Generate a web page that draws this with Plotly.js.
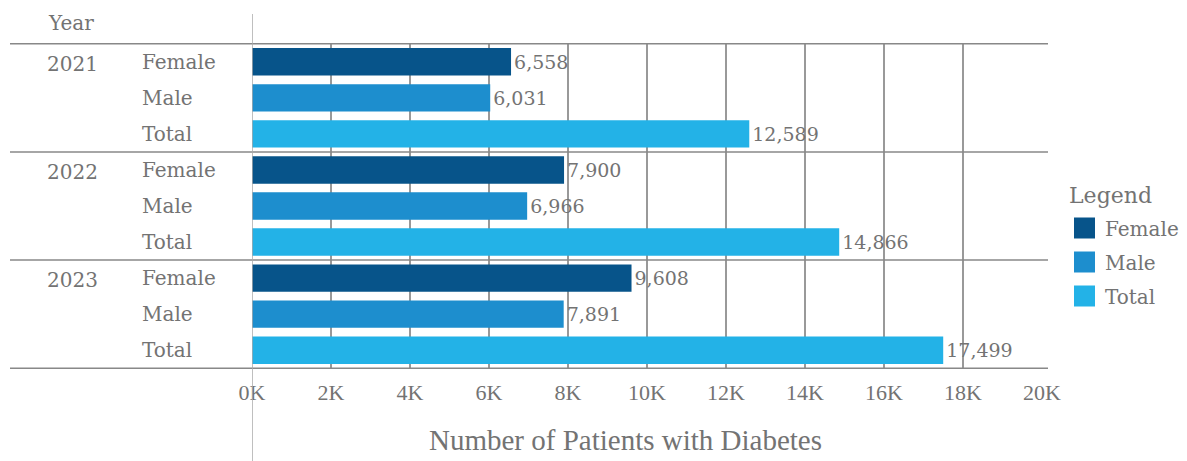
<!DOCTYPE html>
<html>
<head>
<meta charset="utf-8">
<script src="https://cdn.plot.ly/plotly-3.0.1.min.js"></script>
<style>
  html, body { margin: 0; padding: 0; background: #fff; }
  #chart { width: 1187px; height: 461px; }
</style>
</head>
<body>
<div id="chart"></div>
<script>
// Diabetes patients by year and sex
const years = ['2021', '2022', '2023'];
const groups = ['Female', 'Male', 'Total'];
const female = [6558, 7900, 9608];
const male = [6031, 6966, 7891];
const total = [12589, 14866, 17499];
const tickValues = [0, 2000, 4000, 6000, 8000, 10000, 12000, 14000, 16000, 18000, 20000];
const tickLabels = ['0K', '2K', '4K', '6K', '8K', '10K', '12K', '14K', '16K', '18K', '20K'];
const colors = ['#07548a', '#1d8ece', '#23b2e7'];

const seriesValues = [female, male, total];
const W = 1187, H = 461;
const margin = { l: 252, r: 145, t: 43, b: 92 };
const plotW = W - margin.l - margin.r;
const plotH = H - margin.t - margin.b;
const px = x => (x - margin.l) / plotW;          // pixel -> paper x
const py = y => (H - margin.b - y) / plotH;      // pixel -> paper y

const grey = '#737373';
const serif = 'DejaVu Serif, serif';
const cat = (yr, g) => yr + ' ' + g;

const categoryOrder = [];
years.forEach(yr => groups.forEach(g => categoryOrder.push(cat(yr, g))));

const traces = groups.map((g, i) => ({
  type: 'bar',
  orientation: 'h',
  name: g,
  y: years.map(yr => cat(yr, g)),
  x: seriesValues[i],
  width: 0.76,
  marker: { color: colors[i] },
  texttemplate: '%{x:,}',
  textposition: 'outside',
  textfont: { family: serif, size: 19, color: grey },
  cliponaxis: false,
  showlegend: false,
  hoverinfo: 'x+name'
}));

const shapes = [];
// horizontal rules between year blocks
[-0.5, 2.5, 5.5, 8.5].forEach(yv => shapes.push({
  type: 'line', xref: 'paper', yref: 'y',
  x0: px(10), x1: px(1048), y0: yv, y1: yv,
  line: { color: '#888888', width: 1.5 }
}));
// long vertical rule at zero
shapes.push({
  type: 'line', xref: 'x', yref: 'paper',
  x0: 0, x1: 0, y0: py(461), y1: py(14),
  line: { color: '#aaaaaa', width: 1.5 }
});

const annotations = [];
annotations.push({
  xref: 'paper', yref: 'paper', x: px(46), y: py(23),
  xanchor: 'left', yanchor: 'middle', showarrow: false,
  text: 'Year', font: { family: serif, size: 20, color: grey }
});
years.forEach(yr => {
  annotations.push({
    xref: 'paper', yref: 'y', x: px(45), y: cat(yr, groups[0]),
    xanchor: 'left', yanchor: 'middle', showarrow: false, yshift: -2,
    text: yr, font: { family: serif, size: 20, color: grey }
  });
  groups.forEach(g => annotations.push({
    xref: 'paper', yref: 'y', x: px(140), y: cat(yr, g),
    xanchor: 'left', yanchor: 'middle', showarrow: false,
    text: g, font: { family: serif, size: 20, color: grey }
  }));
});
// axis title
annotations.push({
  xref: 'paper', yref: 'paper', x: px(625), y: py(440),
  xanchor: 'center', yanchor: 'middle', showarrow: false,
  text: 'Number of Patients with Diabetes',
  font: { family: 'Liberation Serif, serif', size: 29, color: grey }
});
// legend
annotations.push({
  xref: 'paper', yref: 'paper', x: px(1067), y: py(195),
  xanchor: 'left', yanchor: 'middle', showarrow: false,
  text: 'Legend', font: { family: serif, size: 22, color: grey }
});
groups.forEach((g, i) => {
  const cy = 228 + i * 34;
  shapes.push({
    type: 'rect', xref: 'paper', yref: 'paper',
    x0: px(1074), x1: px(1095), y0: py(cy + 10.5), y1: py(cy - 10.5),
    fillcolor: colors[i], line: { width: 0 }
  });
  annotations.push({
    xref: 'paper', yref: 'paper', x: px(1103), y: py(cy + 1),
    xanchor: 'left', yanchor: 'middle', showarrow: false,
    text: g, font: { family: serif, size: 20, color: grey }
  });
});

const layout = {
  width: W, height: H,
  margin: margin,
  paper_bgcolor: '#ffffff',
  plot_bgcolor: '#ffffff',
  barmode: 'overlay',
  showlegend: false,
  xaxis: {
    range: [0, 20000],
    tickvals: tickValues,
    ticktext: tickLabels,
    showgrid: true,
    gridcolor: '#999999',
    gridwidth: 1.5,
    zeroline: false,
    showline: false,
    ticks: '',
    ticklabelstandoff: 8,
    tickfont: { family: 'Liberation Serif, serif', size: 22, color: grey },
    fixedrange: true
  },
  yaxis: {
    type: 'category',
    categoryorder: 'array',
    categoryarray: categoryOrder,
    autorange: 'reversed',
    range: [8.5, -0.5],
    showticklabels: false,
    showgrid: false,
    zeroline: false,
    ticks: '',
    fixedrange: true
  },
  shapes: shapes,
  annotations: annotations
};

Plotly.newPlot('chart', traces, layout, { displayModeBar: false, staticPlot: true });
</script>
</body>
</html>
